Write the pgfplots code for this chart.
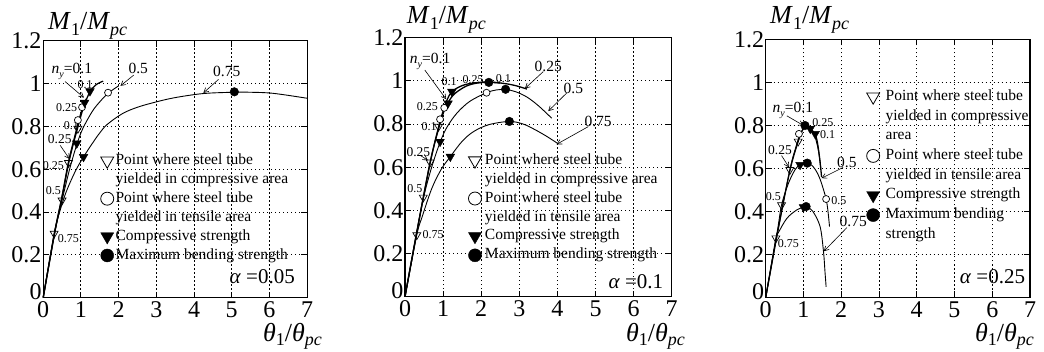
\documentclass[border=0pt]{standalone}
\usepackage{fontspec}
\setmainfont{Liberation Serif}
\usepackage{pgfplots}
\pgfplotsset{compat=1.18}
\usetikzlibrary{arrows.meta}

\newcommand{\fs}[1]{\fontsize{#1}{#1}\selectfont}
\newcommand{\Mlab}{{\fs{26}\textit{M}\raisebox{-0.22em}{\fs{18}1}/\textit{M}\raisebox{-0.22em}{\fs{18}\textit{pc}}}}
\newcommand{\Tlab}{{\fs{26}\textit{θ}\raisebox{-0.18em}{\fs{18}1}/\textit{θ}\raisebox{-0.18em}{\fs{18}\textit{pc}}}}
\newcommand{\ny}{\textit{n}\raisebox{-0.25em}{\fs{10}\textit{y}}=0.1}

\pgfplotsset{
  panel/.style={
    scale only axis, clip=false,
    xmin=0,xmax=7,ymin=0,ymax=1.2,
    xtick={0,1,2,3,4,5,6,7},
    xticklabels={0,1,2,3,4,5,6,7},
    ytick={0,0.2,0.4,0.6,0.8,1,1.2},
    yticklabels={{},0.2,0.4,0.6,0.8,1,1.2},
    grid=major,
    major grid style={black, line width=0.9pt, dash pattern=on 1.2pt off 2.8pt},
    tick align=inside,
    major tick length=6pt,
    every tick/.style={black, line width=0.9pt},
    axis line style={line width=1.1pt},
    tick label style={font=\fs{24}, inner sep=0pt},
    yticklabel style={xshift=-1.5pt},
    xticklabel style={yshift=-3.6pt},
    /pgf/number format/assume math mode=true,
    legend cell align=left,
    legend style={draw=none, fill=none, inner sep=0pt, outer sep=0pt, anchor=north west,
       row sep=4.1pt,
       nodes={inner sep=0pt, text height=11pt, text depth=3.8pt, font=\fs{15.5}}},
  },
  curve/.style={black, line width=0.9pt, smooth, tension=0.55, no marks, forget plot},
  tcurve/.style={black, line width=1.3pt, smooth, tension=0.55, no marks, forget plot},
  otri/.style={only marks, forget plot, mark=triangle, mark size=4.6pt, mark options={rotate=180, fill=white, draw=black, line width=0.7pt}},
  ocirc/.style={only marks, forget plot, mark=*, mark size=3.5pt, mark options={fill=white, draw=black, line width=0.7pt}},
  ftri/.style={only marks, forget plot, mark=triangle*, mark size=5pt, mark options={rotate=180, fill=black, draw=black}},
  fcirc/.style={only marks, forget plot, mark=*, mark size=4.3pt, mark options={fill=black, draw=black}},
  lotri/.style={legend image code/.code={\draw[only marks, mark=triangle, mark size=7.5pt, mark options={rotate=180,fill=white,draw=black,line width=0.8pt}] plot coordinates {(0pt,0pt)};}},
  locirc/.style={legend image code/.code={\draw[only marks, mark=*, mark size=6.5pt, mark options={fill=white,draw=black,line width=0.8pt}] plot coordinates {(0pt,0pt)};}},
  lftri/.style={legend image code/.code={\draw[only marks, mark=triangle*, mark size=7.5pt, mark options={rotate=180,fill=black,draw=black}] plot coordinates {(0pt,0pt)};}},
  lfcirc/.style={legend image code/.code={\draw[only marks, mark=*, mark size=6.5pt, mark options={fill=black,draw=black}] plot coordinates {(0pt,0pt)};}},
}
\tikzset{
  arr/.style={-{Straight Barb[length=4.5pt,width=5pt]}, line width=0.6pt},
  sm/.style={font=\fs{12}, inner sep=0.5pt},
  mdl/.style={font=\fs{13.5}, inner sep=0.5pt},
  md/.style={font=\fs{15.5}, inner sep=0.5pt},
  yzero/.style={anchor=south east, font=\fs{24}, inner sep=0pt, xshift=-1.5pt, yshift=-2.3pt},
}

\begin{document}
\begin{tikzpicture}
\path[use as bounding box] (0pt,0pt) rectangle (1044pt,351pt);

%================ Panel 1: alpha = 0.05
\begin{axis}[panel, at={(43.2pt,53.3pt)}, anchor=south west, width=263.9pt, height=256.8pt,
  legend style={at={(0.218,0.562)}, column sep=1.9pt}]
\addplot[tcurve] coordinates {(0,0) (0.3,0.3) (0.5,0.47) (0.67,0.625) (0.8,0.72) (0.9,0.785) (1.0,0.85) (1.1,0.905) (1.24,0.962) (1.4,0.995) (1.59,1.012)};
\addplot[tcurve] coordinates {(0,0) (0.3,0.3) (0.5,0.474) (0.67,0.633) (0.85,0.762) (1.0,0.862) (1.1,0.913) (1.15,0.93)};
\addplot[curve] coordinates {(0,0) (0.3,0.3) (0.5,0.455) (0.7,0.6) (0.89,0.715) (1.05,0.79) (1.3,0.87) (1.5,0.915) (1.72,0.955) (2.0,0.99)};
\addplot[curve] coordinates {(0,0) (0.29,0.3) (0.41,0.385) (0.6,0.49) (0.85,0.59) (1.07,0.658) (1.3,0.72) (1.5,0.77) (1.7,0.81) (2.1,0.86) (2.5,0.89) (3.0,0.915) (3.5,0.935) (4.25,0.954) (5.05,0.96) (5.5,0.96) (6.1,0.955) (7.0,0.932)};
\addplot[otri] coordinates {(0.29,0.30) (0.5,0.455) (0.67,0.63) (0.92,0.79)};
\addplot[ocirc] coordinates {(0.92,0.83) (1.03,0.89) (1.72,0.958)};
\addplot[ftri] coordinates {(1.24,0.965) (1.10,0.912) (0.89,0.721) (1.07,0.658)};
\addplot[fcirc] coordinates {(5.07,0.962)};
\addlegendimage{lotri}\addlegendentry{Point where steel tube}
\addlegendimage{empty legend}\addlegendentry{yielded in compressive area}
\addlegendimage{locirc}\addlegendentry{Point where steel tube}
\addlegendimage{empty legend}\addlegendentry{yielded in tensile area}
\addlegendimage{lftri}\addlegendentry{Compressive strength}
\addlegendimage{lfcirc}\addlegendentry{Maximum bending strength}
\node[yzero] at (axis cs:0,0) {0};
\node[md] at (axis cs:0.76,1.058) {\ny};
\draw[arr] (axis cs:0.58,1.01) -- (axis cs:1.08,0.935);
\node[sm] at (axis cs:1.11,0.996) {0.1};
\node[sm] at (axis cs:0.62,0.89) {0.25};
\node[sm] at (axis cs:0.75,0.805) {0.1};
\node[mdl] at (axis cs:0.44,0.74) {0.25};
\draw[arr] (axis cs:0.45,0.712) -- (axis cs:0.7,0.648);
\node[sm] at (axis cs:0.27,0.617) {0.25};
\node[sm] at (axis cs:0.27,0.50) {0.5};
\node[sm] at (axis cs:0.67,0.277) {0.75};
\node[md] at (axis cs:2.52,1.072) {0.5};
\draw[arr] (axis cs:2.4,1.04) -- (axis cs:2.05,0.99);
\node[md] at (axis cs:4.87,1.056) {0.75};
\draw[arr] (axis cs:4.65,1.02) -- (axis cs:4.25,0.957);
\node[anchor=base east, font=\fs{21}, inner sep=0pt] at (rel axis cs:0.954,0.056) {\textit{α} =0.05};
\end{axis}

%================ Panel 2: alpha = 0.1
\begin{axis}[panel, at={(405pt,54.3pt)}, anchor=south west, width=266.7pt, height=259pt,
  legend style={at={(0.238,0.554)}, column sep=3.5pt}]
\addplot[tcurve] coordinates {(0,0) (0.3,0.29) (0.66,0.62) (0.88,0.785) (1.0,0.86) (1.1,0.91) (1.23,0.95) (1.5,0.978) (1.8,0.99) (2.2,0.995) (2.6,0.988) (2.9,0.978) (3.2,0.962)};
\addplot[tcurve] coordinates {(0,0) (0.3,0.29) (0.66,0.623) (0.9,0.79) (1.04,0.868) (1.13,0.9) (1.3,0.94) (1.6,0.975) (1.9,0.99) (2.2,0.993) (2.5,0.99)};
\addplot[curve] coordinates {(0,0) (0.3,0.29) (0.48,0.455) (0.7,0.6) (0.92,0.715) (1.1,0.785) (1.36,0.85) (1.7,0.905) (2.14,0.945) (2.4,0.958) (2.64,0.96) (2.9,0.95) (3.2,0.925) (3.5,0.885) (3.85,0.827)};
\addplot[curve] coordinates {(0,0) (0.31,0.286) (0.45,0.37) (0.7,0.5) (0.95,0.59) (1.19,0.649) (1.5,0.72) (1.8,0.765) (2.2,0.797) (2.74,0.812) (3.1,0.8) (3.4,0.775) (3.7,0.745) (4.0,0.711)};
\addplot[otri] coordinates {(0.31,0.286) (0.48,0.46) (0.66,0.623) (0.88,0.788)};
\addplot[ocirc] coordinates {(0.92,0.822) (1.03,0.875) (2.14,0.945)};
\addplot[ftri] coordinates {(1.23,0.95) (1.13,0.896) (0.92,0.718) (1.19,0.649)};
\addplot[fcirc] coordinates {(2.20,0.993) (2.64,0.961) (2.74,0.812)};
\addlegendimage{lotri}\addlegendentry{Point where steel tube}
\addlegendimage{empty legend}\addlegendentry{yielded in compressive area}
\addlegendimage{locirc}\addlegendentry{Point where steel tube}
\addlegendimage{empty legend}\addlegendentry{yielded in tensile area}
\addlegendimage{lftri}\addlegendentry{Compressive strength}
\addlegendimage{lfcirc}\addlegendentry{Maximum bending strength}
\node[yzero] at (axis cs:0,0) {0};
\node[md] at (axis cs:0.66,1.089) {\ny};
\draw[arr] (axis cs:0.52,1.05) -- (axis cs:1.08,0.915);
\node[sm] at (axis cs:1.16,0.998) {0.1};
\node[sm] at (axis cs:1.79,1.006) {0.25};
\node[sm] at (axis cs:2.58,1.012) {0.1};
\node[md] at (axis cs:3.76,1.066) {0.25};
\draw[arr] (axis cs:3.63,1.043) -- (axis cs:3.15,0.965);
\node[md] at (axis cs:4.42,0.966) {0.5};
\draw[arr] (axis cs:4.24,0.943) -- (axis cs:3.76,0.86);
\node[md] at (axis cs:5.07,0.811) {0.75};
\draw[arr] (axis cs:4.81,0.788) -- (axis cs:3.98,0.706);
\node[sm] at (axis cs:0.59,0.88) {0.25};
\node[sm] at (axis cs:0.63,0.79) {0.1};
\node[mdl] at (axis cs:0.35,0.672) {0.25};
\draw[arr] (axis cs:0.4,0.655) -- (axis cs:0.6,0.632);
\node[sm] at (axis cs:0.26,0.502) {0.5};
\node[sm] at (axis cs:0.74,0.286) {0.75};
\node[anchor=base east, font=\fs{21}, inner sep=0pt] at (rel axis cs:0.969,0.03) {\textit{α} =0.1};
\end{axis}

%================ Panel 3: alpha = 0.25
\begin{axis}[panel, at={(765.7pt,53.5pt)}, anchor=south west, width=264.3pt, height=258pt,
  legend style={at={(0.382,0.807)}, column sep=6pt, row sep=4.9pt}]
\addplot[tcurve] coordinates {(0,0) (0.3,0.29) (0.64,0.59) (0.86,0.726) (0.95,0.77) (1.04,0.797) (1.12,0.796) (1.18,0.785) (1.31,0.76) (1.38,0.71) (1.44,0.63) (1.48,0.56)};
\addplot[curve] coordinates {(0,0) (0.3,0.29) (0.64,0.594) (0.8,0.7) (0.9,0.755) (1.0,0.785) (1.08,0.79) (1.18,0.78) (1.3,0.75) (1.4,0.68) (1.46,0.6)};
\addplot[curve] coordinates {(0,0) (0.3,0.3) (0.42,0.43) (0.6,0.53) (0.78,0.595) (0.91,0.617) (1.1,0.627) (1.25,0.61) (1.38,0.575) (1.48,0.53) (1.6,0.458) (1.65,0.4) (1.69,0.33)};
\addplot[curve] coordinates {(0,0) (0.27,0.276) (0.33,0.3) (0.56,0.368) (0.82,0.407) (1.0,0.42) (1.07,0.423) (1.25,0.4) (1.44,0.33) (1.53,0.215) (1.57,0.12) (1.6,0.05)};
\addplot[otri] coordinates {(0.27,0.276) (0.42,0.43) (0.64,0.594) (0.86,0.726)};
\addplot[ocirc] coordinates {(0.88,0.761) (1.6,0.458)};
\addplot[ftri] coordinates {(1.18,0.785) (1.31,0.761) (0.91,0.617) (1.0,0.42)};
\addplot[fcirc] coordinates {(1.04,0.80) (1.10,0.625) (1.07,0.423)};
\addlegendimage{lotri}\addlegendentry{Point where steel tube}
\addlegendimage{empty legend}\addlegendentry{yielded in compressive}
\addlegendimage{empty legend}\addlegendentry{area}
\addlegendimage{locirc}\addlegendentry{Point where steel tube}
\addlegendimage{empty legend}\addlegendentry{yielded in tensile area}
\addlegendimage{lftri}\addlegendentry{Compressive strength}
\addlegendimage{lfcirc}\addlegendentry{Maximum bending}
\addlegendimage{empty legend}\addlegendentry{strength}
\node[yzero] at (axis cs:0,0) {0};
\node[md] at (axis cs:0.72,0.87) {\ny};
\draw[arr] (axis cs:0.56,0.845) -- (axis cs:1.0,0.80);
\node[sm, anchor=west] at (axis cs:1.22,0.815) {0.25};
\node[sm, anchor=west] at (axis cs:1.42,0.756) {0.1};
\node[mdl] at (axis cs:0.38,0.686) {0.25};
\draw[arr] (axis cs:0.42,0.66) -- (axis cs:0.62,0.605);
\node[md] at (axis cs:2.15,0.627) {0.5};
\draw[arr] (axis cs:2.05,0.605) -- (axis cs:1.48,0.555);
\node[sm, anchor=west] at (axis cs:1.72,0.452) {0.5};
\node[sm] at (axis cs:0.2,0.469) {0.5};
\node[md] at (axis cs:2.32,0.353) {0.75};
\draw[arr] (axis cs:2.15,0.325) -- (axis cs:1.54,0.215);
\node[sm] at (axis cs:0.6,0.252) {0.75};
\node[anchor=base east, font=\fs{21}, inner sep=0pt] at (rel axis cs:0.982,0.055) {\textit{α} =0.25};
\end{axis}

% axis titles
\node[anchor=base west, inner sep=0pt] at (48pt,321pt) {\Mlab};
\node[anchor=base west, inner sep=0pt] at (406.7pt,327.7pt) {\Mlab};
\node[anchor=base west, inner sep=0pt] at (770pt,327.7pt) {\Mlab};
\node[anchor=base east, inner sep=0pt] at (322pt,10pt) {\Tlab};
\node[anchor=base east, inner sep=0pt] at (685pt,10pt) {\Tlab};
\node[anchor=base east, inner sep=0pt] at (1034pt,10pt) {\Tlab};
\end{tikzpicture}
\end{document}
